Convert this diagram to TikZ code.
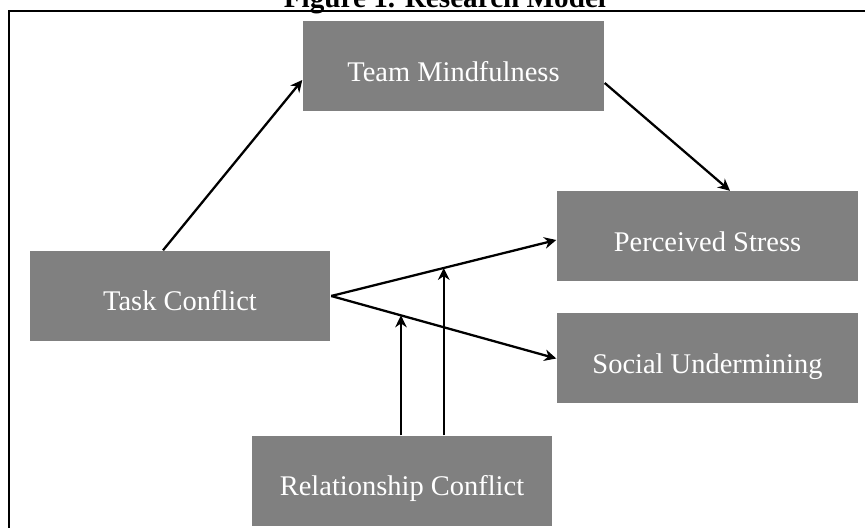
\documentclass[tikz,border=0pt]{standalone}
\usepackage{fontspec}
\setmainfont{Liberation Serif}
\usetikzlibrary{arrows.meta}
\definecolor{boxgray}{RGB}{128, 128, 128}

\begin{document}
\begin{tikzpicture}[
    construct/.style={rectangle, fill=boxgray, minimum width=3.01cm, minimum height=0.9cm, align=center, text=white, text height=0.85em, text depth=0pt, font=\fontsize{8.1pt}{9.7pt}\selectfont},
    arrow/.style={-{Stealth[length=3.4pt,width=3.3pt]}, line width=0.65pt},
    frame/.style={line width=0.7pt}
]
    \useasboundingbox (0,0) rectangle (8.65,5.28);

    % Frame and title
    \draw[frame] (0.09,0) -- (0.09,5.17) -- (8.65,5.17);
    \node[anchor=base, inner sep=0, font=\bfseries\fontsize{8.3pt}{10pt}\selectfont] (title) at (4.45,5.20) {Figure 1. Research Model};

    % Constructs
    \node[construct] (tm) at (4.535,4.615) {Team Mindfulness};
    \node[construct] (tc) at (1.80,2.32) {Task Conflict};
    \node[construct] (ps) at (7.075,2.915) {Perceived Stress};
    \node[construct] (su) at (7.075,1.695) {Social Undermining};
    \node[construct] (rc) at (4.02,0.47) {Relationship Conflict};

    % Arrows
    \draw[arrow] ([xshift=-0.17cm]tc.north) -- ([yshift=-0.135cm]tm.west);
    \draw[arrow] ([yshift=-0.165cm]tm.east) -- ([xshift=0.225cm]ps.north);
    \draw[arrow] (tc.east) -- coordinate[pos=0.5] (upper) ([yshift=-0.035cm]ps.west);
    \draw[arrow] (tc.east) -- coordinate[pos=0.31] (lower) (su.west);

    % Moderation
    \draw[arrow] (rc.north -| lower) -- (lower);
    \draw[arrow] (rc.north -| upper) -- (upper);

\end{tikzpicture}
\end{document}
